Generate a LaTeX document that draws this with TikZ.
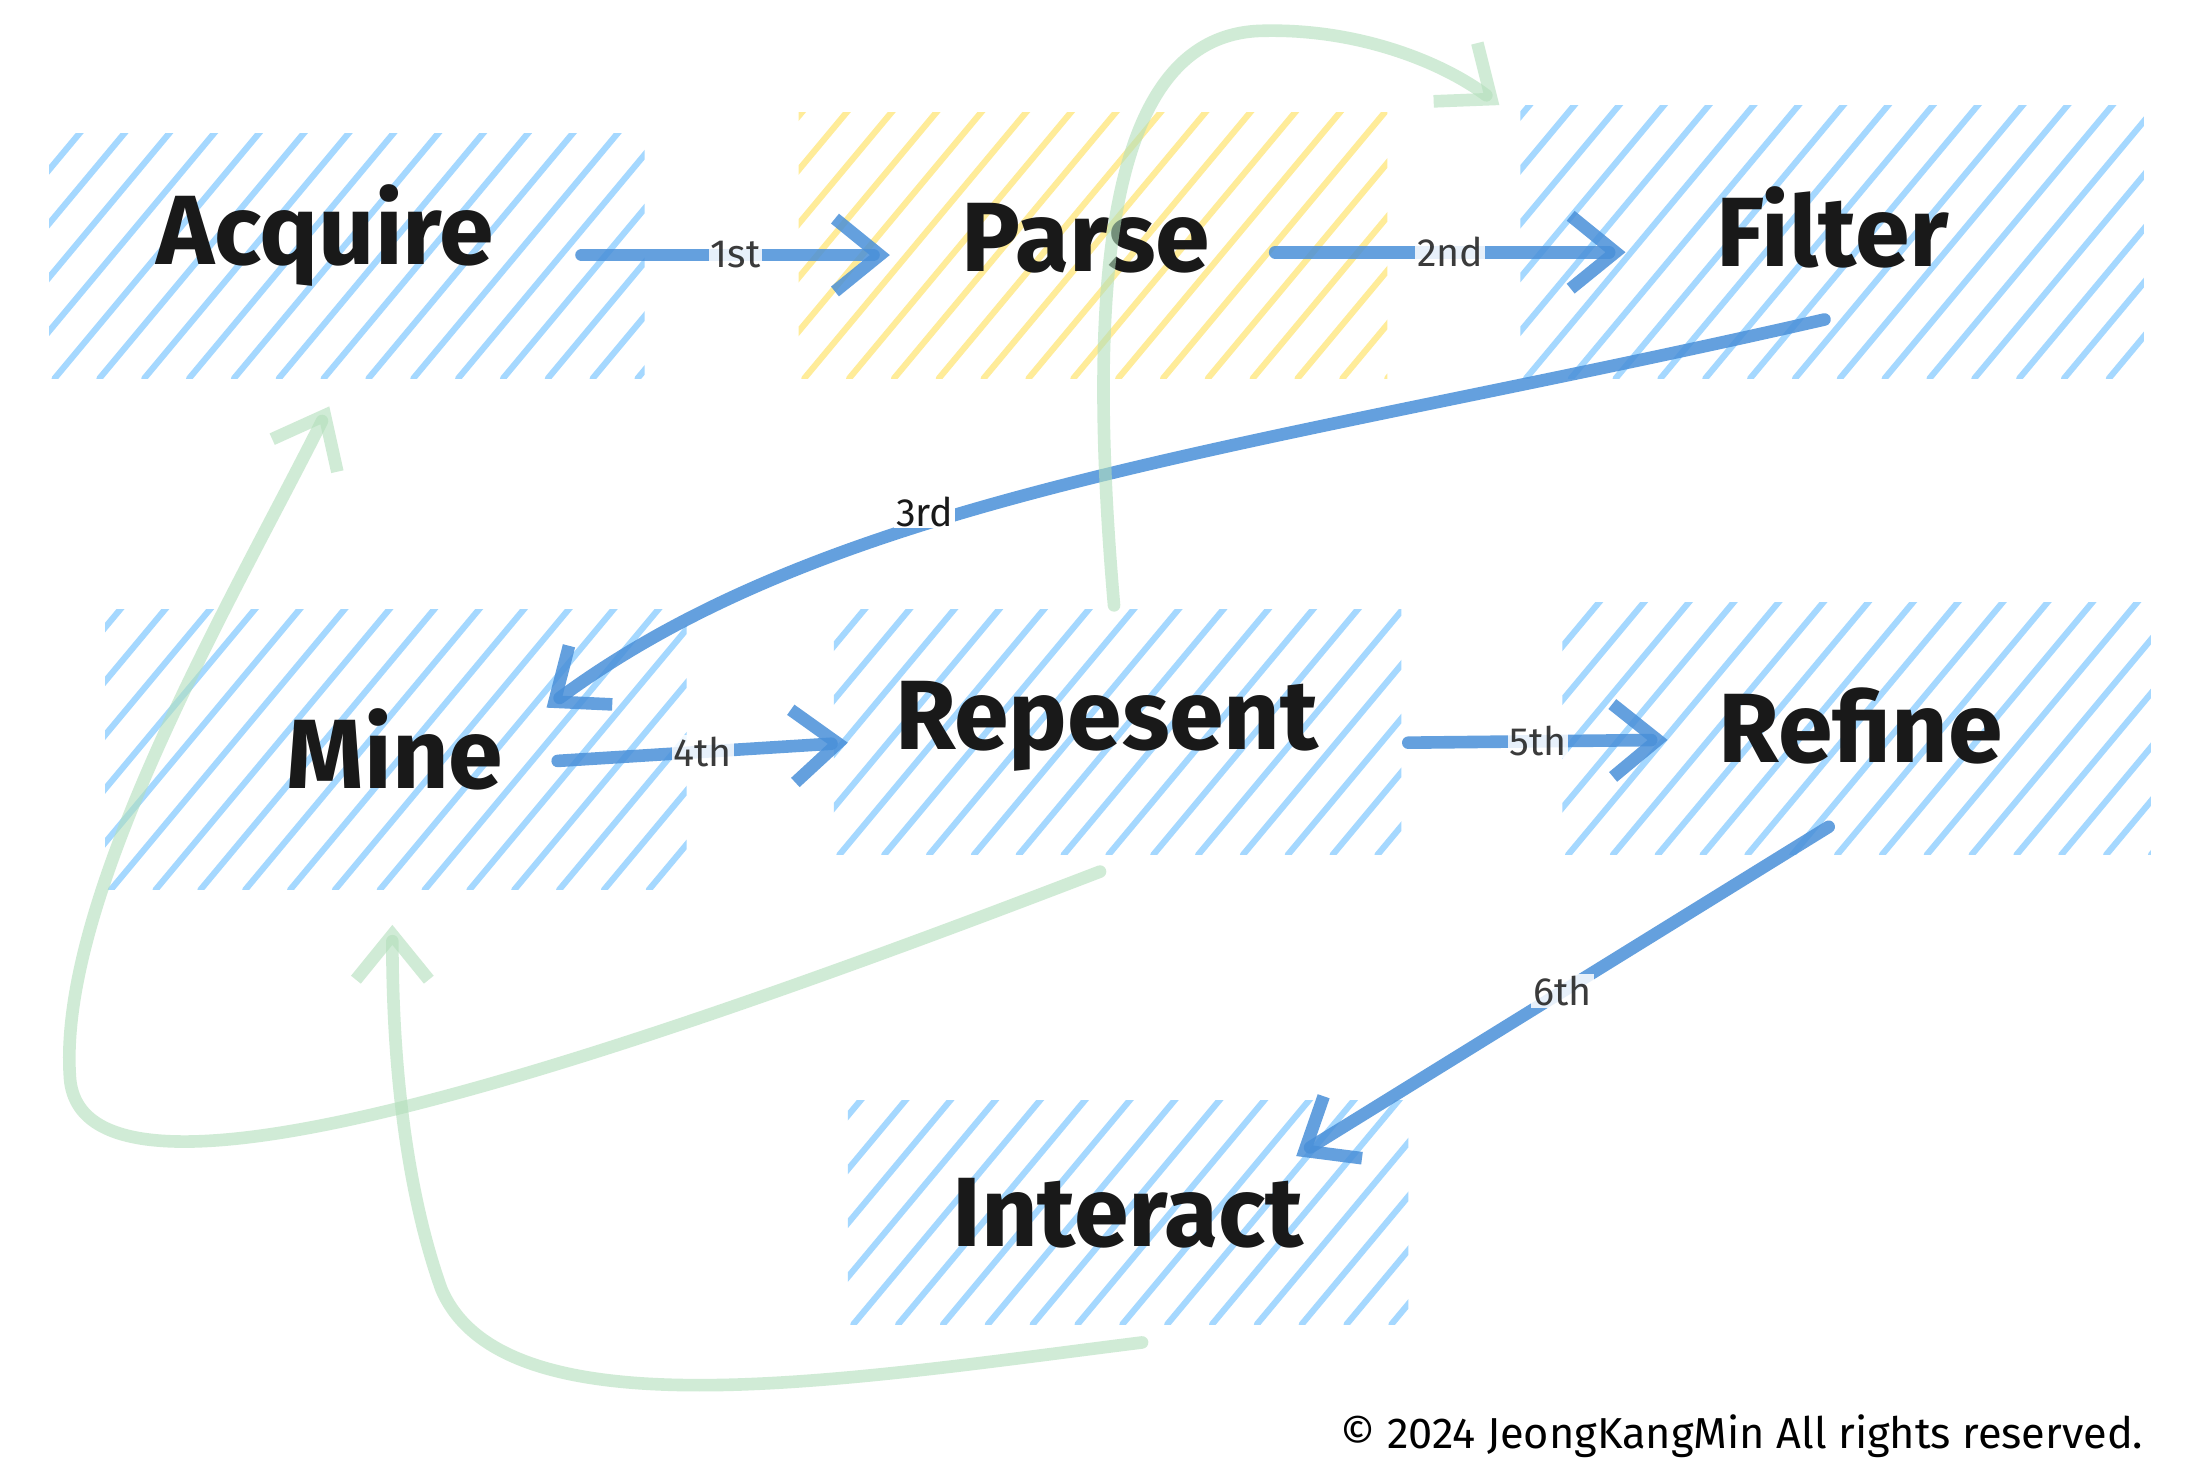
\documentclass[tikz,border=0pt]{standalone}
\usepackage{fontspec}
\setmainfont{Fira Sans}
\usetikzlibrary{arrows.meta}
\definecolor{hb}{HTML}{A5D8FF}
\definecolor{hy}{HTML}{FFEC99}
\definecolor{eb}{HTML}{4A90D9}
\definecolor{eg}{HTML}{B2DFBB}
\newcommand{\hatchbox}[5]{%
 \begin{scope}
 \clip (#1,#2) rectangle (#3,#4);
 \foreach \k in {-8,...,20}{
   \pgfmathsetmacro{\xa}{#1+\k*32-60}
   \draw[#5,line width=0.22cm,line cap=round] (\xa,#4) -- ++(200,-240);
 }
 \end{scope}}
\tikzset{
 big/.style={font=\fontsize{100}{110}\selectfont\bfseries,text=black!90},
 lab/.style={font=\fontsize{40}{44}\selectfont,fill=white,inner sep=2pt,text=black!90},
 blu/.style={draw=eb,opacity=0.85,line width=0.45cm,line cap=round,-{Straight Barb[length=1.6cm,width=2.6cm]}},
 grn/.style={draw=eg,opacity=0.6,line width=0.45cm,line cap=round,-{Straight Barb[length=1.6cm,width=2.6cm]}},
 box/.style={inner sep=0pt}
}
\begin{document}
\begin{tikzpicture}[x=0.05cm,y=-0.05cm]
\useasboundingbox (0,0) rectangle (1560,1059);
\fill[white] (0,0) rectangle (1560,1059);
\hatchbox{35}{95}{460}{270}{hb}
\hatchbox{570}{80}{990}{270}{hy}
\hatchbox{1085}{75}{1530}{270}{hb}
\hatchbox{75}{435}{490}{635}{hb}
\hatchbox{595}{435}{1000}{610}{hb}
\hatchbox{1115}{430}{1535}{610}{hb}
\hatchbox{605}{785}{1005}{945}{hb}
\node[big] (acq) at (232,168) {Acquire};
\node[big] (par) at (775,170) {Parse};
\node[big] (fil) at (1308,162) {Filter};
\node[big] (min) at (282,535) {Mine};
\node[big] (rep) at (790,518) {Repesent};
\node[big] (ref) at (1328,518) {Refine};
\node[big] (int) at (805,866) {Interact};
\coordinate (a1) at (415,182); \coordinate (a2) at (635,182);
\coordinate (b1) at (910,180); \coordinate (b2) at (1160,180);
\coordinate (c1) at (1302,228); \coordinate (c2) at (390,505);
\coordinate (d1) at (398,543); \coordinate (d2) at (605,530);
\coordinate (e1) at (1005,530); \coordinate (e2) at (1190,528);
\coordinate (f1) at (1305,590); \coordinate (f2) at (925,825);
\draw[blu] (a1) -- node[lab]{1st} (a2);
\draw[blu] (b1) -- node[lab]{2nd} (b2);
\draw[blu] (c1) .. controls (900,320) and (600,350) .. (c2);
\node[lab] at (660,365) {3rd};
\draw[blu] (d1) -- node[lab]{4th} (d2);
\draw[blu] (e1) -- node[lab]{5th} (e2);
\draw[blu] (f1) -- node[lab,pos=0.5]{6th} (f2);
\coordinate (g1) at (785,622); \coordinate (g2) at (235,290);
\coordinate (h1) at (815,958); \coordinate (h2) at (280,660);
\coordinate (i1) at (795,432); \coordinate (i2) at (1070,75);
\draw[grn] (g1) .. controls (400,770) and (60,880) .. (50,770) .. controls (40,640) and (170,420) .. (g2);
\draw[grn] (h1) .. controls (600,985) and (360,1025) .. (315,920) .. controls (290,850) and (280,760) .. (h2);
\draw[grn] (i1) .. controls (775,200) and (790,25) .. (900,22) .. controls (970,20) and (1030,45) .. (i2);
\node[font=\fontsize{44}{48}\selectfont,anchor=east] (cp) at (1532,1025) {© 2024 JeongKangMin All rights reserved.};
\end{tikzpicture}
\end{document}
